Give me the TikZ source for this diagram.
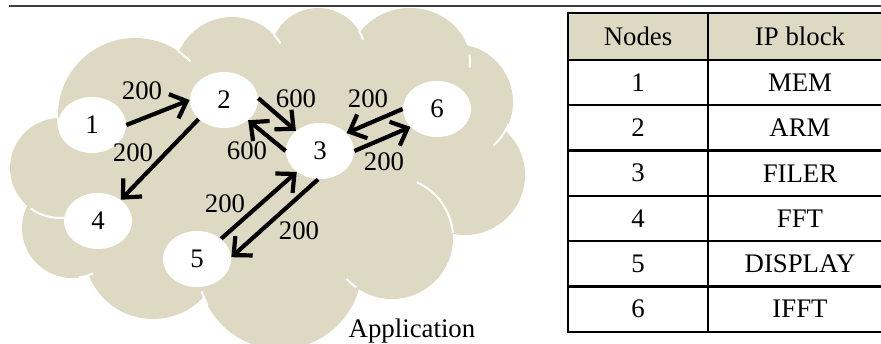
\documentclass[tikz,border=0pt]{standalone}
\usepackage{fontspec}
\setmainfont{Liberation Serif}
\usepackage{tikz}
\usetikzlibrary{shapes.geometric,arrows.meta}
\usepackage{xcolor}
\definecolor{cloudtan}{RGB}{221,217,195}
\definecolor{rulegray}{RGB}{64,64,64}
\newcommand{\lbl}{\fontsize{13.4pt}{15pt}\selectfont}
\tikzset{
  ipnode/.style={ellipse,fill=white,minimum width=34pt,minimum height=28pt,inner sep=0pt},
  flow/.style={line width=2.1pt,-{Straight Barb[length=7pt,width=13pt]}},
  rate/.style={inner sep=0pt},
  seam/.style={white,line width=1pt},
  gridline/.style={line width=1.2pt}
}

\begin{document}
\begin{tikzpicture}[x=0.5pt,y=0.5pt,font=\lbl]
\useasboundingbox (0,0) rectangle (881,343);
\clip (0,0) rectangle (881,343);
\draw[rulegray,line width=0.8pt](9,337)--(881,337);% top rule

% the cloud
\fill[cloudtan](135,228)circle(77) (232,268)circle(58) (318,287)circle(48)
  (410,281)ellipse(60 and 54) (455,241)circle(58) (465,168)circle(60)
  (392,105)circle(61) (280,76)circle(82) (153,93)circle(69)
  (72,115)circle(50) (60,175)circle(50);
\fill[cloudtan](135,228)--(232,268)--(318,287)--(410,281)--(455,241)--(465,168)
  --(392,105)--(280,76)--(153,93)--(72,115)--(60,175)--cycle;% inside
\draw[seam](135,228)++(182:77)arc[start angle=182,end angle=190,radius=77];
\draw[seam](135,228)++(56:77)arc[start angle=56,end angle=44,radius=77];
\draw[seam](232,268)++(44:58)arc[start angle=44,end angle=33,radius=58];
\draw[seam](318,287)++(32:48)arc[start angle=32,end angle=20,radius=48];
\draw[seam](410,281)++(8:60 and 54)arc[start angle=8,end angle=-6,x radius=60,y radius=54];
\draw[seam](455,241)++(-22:58)arc[start angle=-22,end angle=-48,radius=58];
\draw[seam](392,105)++(5:61)arc[start angle=5,end angle=66,radius=61];
\draw[seam](392,105)++(222:61)arc[start angle=222,end angle=234,radius=61];
\draw[seam](280,76)++(197:82)arc[start angle=197,end angle=208,radius=82];
\draw[seam](72,115)++(278:50)arc[start angle=278,end angle=295,radius=50];
\draw[seam](60,175)++(234:50)arc[start angle=234,end angle=276,radius=50];

% IP nodes
\node[ipnode](n1)at(92,218){1};
\node[ipnode](n2)at(224,243){2};
\node[ipnode](n3)at(320,192){3};
\node[ipnode](n4)at(98,122){4};
\node[ipnode](n5)at(197,84){5};
\node[ipnode](n6)at(437,234){6};

% traffic
\draw[flow](n1.east)--(n2.west);
\draw[flow](n2.217)--(n4.43);
\draw[flow](n2.3)--(n3.140);
\draw[flow](n3.west)--(n2.-40);
\draw[flow](n6.west)--(n3.34);
\draw[flow](n3.east)--(n6.214);
\draw[flow](n5.40)--(n3.222);
\draw[flow](n3.266)--(n5.3);
\node[rate](r12)at(142,252){200};
\node[rate](r24)at(133,190){200};
\node[rate](r23)at(296,244){600};
\node[rate](r32)at(247,192){600};
\node[rate](r63)at(368,244){200};
\node[rate](r36)at(384,181){200};
\node[rate](r53)at(225,139){200};
\node[rate](r35)at(299,112){200};
\node[anchor=base](app)at(412,6){Application};

% the table
\fill[cloudtan](568,283)rectangle(892,330);% header
\draw[gridline](568,11.2)rectangle(892,330);
\draw[gridline](708,11.2)--(708,330);
\foreach \k in {0,...,5}
  \draw[gridline](568,{283-45.3*\k})--(892,{283-45.3*\k});
\node(hnodes)at(638,306.5){Nodes};
\node(hblock)at(800,306.5){IP block};
\foreach \n/\ip [count=\i] in {1/MEM,2/ARM,3/FILER,4/FFT,5/DISPLAY,6/IFFT}{
  \node(num\i)at(638,{283-45.3*\i+22.65}){\n};
  \node(blk\i)at(800,{283-45.3*\i+22.65}){\ip};
}
\end{tikzpicture}
\end{document}
